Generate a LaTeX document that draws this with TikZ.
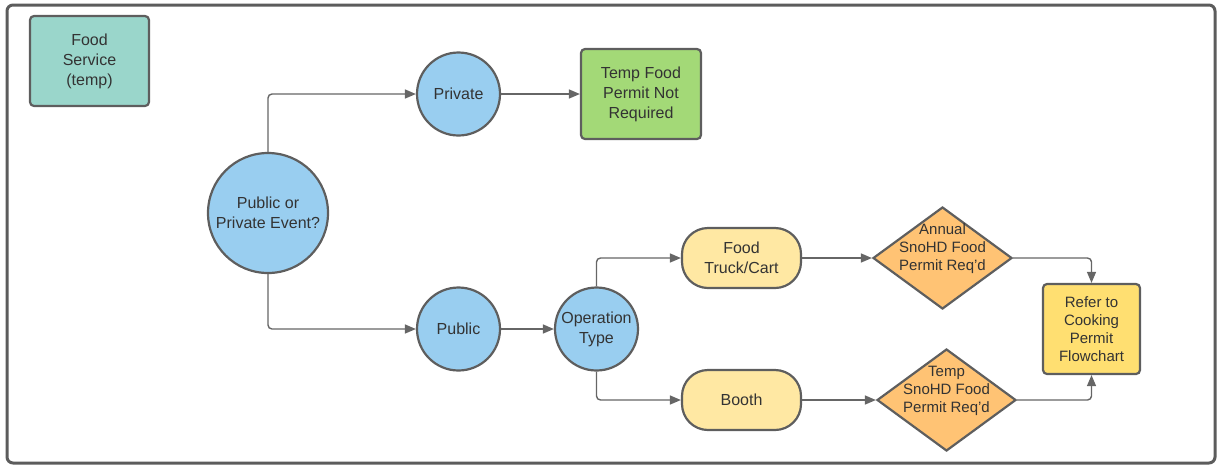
\documentclass[tikz,border=0pt]{standalone}
\usepackage{fontspec}
\setmainfont{Liberation Sans}
\usetikzlibrary{arrows.meta,shapes.geometric}
\definecolor{edgegray}{HTML}{5E5E5E}
\definecolor{linegray}{HTML}{666666}
\definecolor{txt}{HTML}{333333}
\definecolor{tealfill}{HTML}{9AD6CB}
\definecolor{bluefill}{HTML}{99CEF0}
\definecolor{greenfill}{HTML}{A3D977}
\definecolor{palefill}{HTML}{FFE8A3}
\definecolor{orangefill}{HTML}{FFC374}
\definecolor{yellowfill}{HTML}{FFDF71}
\newcommand{\sq}{\char"0027\relax}
\begin{document}
\begin{tikzpicture}[x=1pt,y=-1pt,
  base/.style={draw=edgegray,line width=2.2pt,text=txt,align=center,inner sep=0pt,
    font=\fontsize{16}{20}\selectfont},
  boxnode/.style={base,rectangle,rounded corners=4pt},
  circnode/.style={base,circle},
  pillnode/.style={base,rectangle,rounded corners=26pt,minimum width=119pt,minimum height=60pt},
  decision/.style={base,diamond,minimum width=139pt,minimum height=102pt,fill=orangefill},
  conn/.style={draw=linegray,line width=1.4pt,rounded corners=4pt,
    -{Triangle[length=11pt,width=9pt]}},
  small/.style={font=\fontsize{15}{18}\selectfont,text=txt,align=center}
]
\useasboundingbox (0,0) rectangle (1222,467);
\draw[draw=linegray!90!black,line width=3pt,rounded corners=6pt] (7,5) rectangle (1215,463);

% nodes
\node[boxnode,fill=tealfill,minimum width=119pt,minimum height=90pt] (svc) at (89.5,61) {Food\\Service\\(temp)};
\node[circnode,fill=bluefill,minimum size=120pt] (ev) at (268,213) {Public or\\Private Event?};
\node[circnode,fill=bluefill,minimum size=83pt] (priv) at (458.5,94) {Private};
\node[boxnode,fill=greenfill,minimum width=120pt,minimum height=90pt] (tfp) at (641,94) {Temp Food\\Permit Not\\Required};
\node[circnode,fill=bluefill,minimum size=83pt] (pub) at (458.5,329) {Public};
\node[circnode,fill=bluefill,minimum size=83pt] (op) at (596.5,329) {Operation\\Type};
\node[pillnode,fill=palefill] (truck) at (741.5,258) {Food\\Truck/Cart};
\node[pillnode,fill=palefill] (booth) at (741.5,400) {Booth};
\node[decision,label={[small,yshift=9pt]center:{Annual\\SnoHD Food\\Permit Req\sq d}}] (annual) at (942.5,258) {};
\node[decision,label={[small,yshift=9pt]center:{Temp\\SnoHD Food\\Permit Req\sq d}}] (tempd) at (946.5,400) {};
\node[boxnode,fill=yellowfill,minimum width=97pt,minimum height=90pt,font=\fontsize{15}{18}\selectfont] (refer) at (1091.5,329) {Refer to\\Cooking\\Permit\\Flowchart};

% connectors
\draw[conn] (ev.north) |- (priv.west);
\draw[conn] (ev.south) |- (pub.west);
\draw[conn] (priv) -- (tfp);
\draw[conn] (pub) -- (op);
\draw[conn] (op.north) |- (truck.west);
\draw[conn] (op.south) |- (booth.west);
\draw[conn] (truck) -- (annual);
\draw[conn] (booth) -- (tempd);
\draw[conn] (annual.east) -| (refer.north);
\draw[conn] (tempd.east) -| (refer.south);
\end{tikzpicture}
\end{document}
